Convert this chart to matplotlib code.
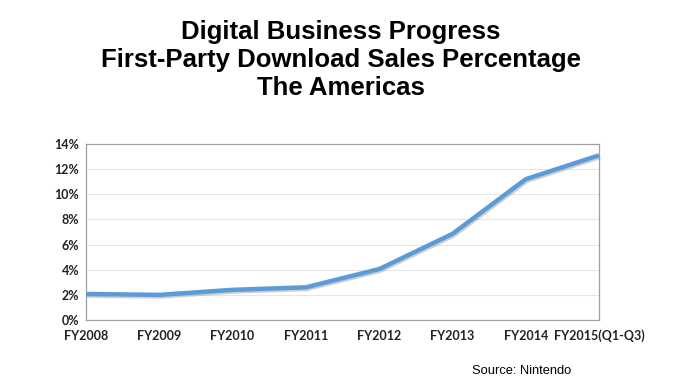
import matplotlib
matplotlib.use("Agg")
import matplotlib.pyplot as plt
import matplotlib.patheffects as pe

categories = ["FY2008", "FY2009", "FY2010", "FY2011", "FY2012", "FY2013", "FY2014", "FY2015(Q1-Q3)"]
values = [2.07, 2.0, 2.4, 2.6, 4.05, 6.85, 11.2, 13.1]
yticks = [0, 2, 4, 6, 8, 10, 12, 14]

fig = plt.figure(figsize=(6.82, 3.83), dpi=100)
ax = fig.add_axes([86/682, 1-320/383, (599-86)/682, (320-144)/383])

x = list(range(len(categories)))
ax.plot(x, values, color="#5b9bd8", lw=3.2, solid_capstyle="butt",
        path_effects=[pe.SimpleLineShadow(offset=(0.8, -1.2), shadow_color="#888888", alpha=0.4),
                      pe.Normal()], zorder=3, clip_on=False)
ax.set_xlim(0, len(categories)-1)
ax.set_ylim(0, 14)
ax.set_yticks(yticks)
ax.set_yticklabels([f"{v}%" for v in yticks])
ax.set_xticks(x)
ax.set_xticklabels(categories)
ax.grid(axis="y", color="#e6e6e6", lw=0.8)
ax.set_axisbelow(True)
for s in ax.spines.values():
    s.set_color("#a0a0a0")
    s.set_linewidth(0.9)
ax.tick_params(length=0, labelsize=9, pad=5)
for lbl in ax.get_xticklabels() + ax.get_yticklabels():
    lbl.set_fontweight("bold")
    lbl.set_family("Lato")
    lbl.set_color("#222222")
ax.tick_params(axis="x", pad=7)

fig.text(0.5, 1-60/383, "Digital Business Progress\nFirst-Party Download Sales Percentage\nThe Americas",
         ha="center", va="center", fontsize=18.5, fontweight="bold", linespacing=1.2,
         family="Liberation Sans", color="black")
fig.text(522/682, 1-371/383, "Source: Nintendo", ha="center", va="center", fontsize=9.3,
         family="Liberation Sans", color="black")

fig.savefig("out.png", dpi=100)
